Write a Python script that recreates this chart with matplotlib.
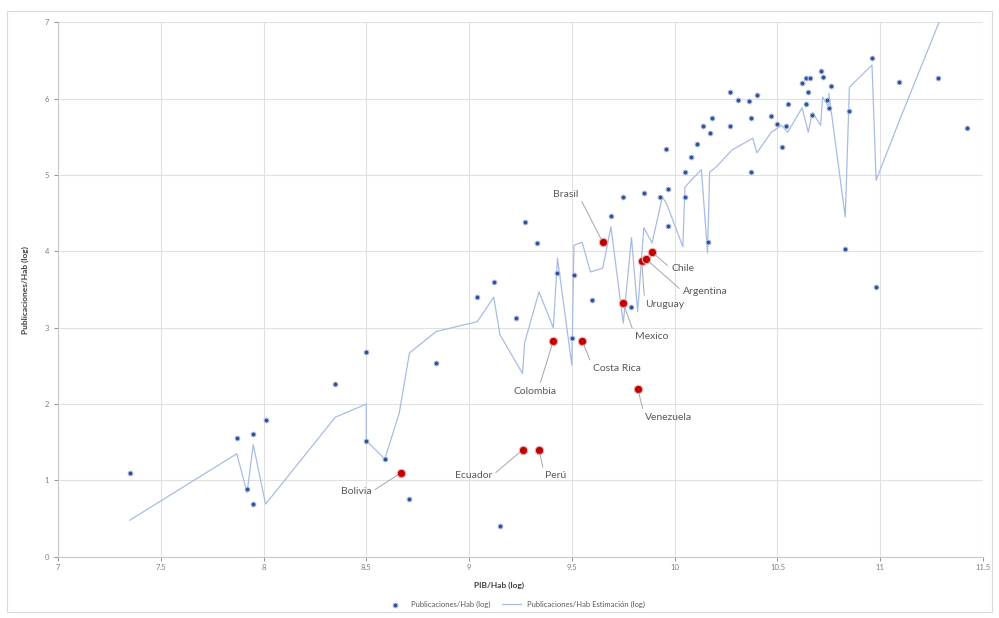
import matplotlib
matplotlib.use("Agg")
import matplotlib.pyplot as plt
from matplotlib.patches import Rectangle

plt.rcParams["font.family"] = ["Lato", "DejaVu Sans"]

# log GDP per capita / log publications per capita, all countries
pib = [7.35, 7.87, 7.92, 7.95, 7.95, 8.01, 8.35, 8.50, 8.50, 8.59, 8.71, 8.84,
       9.04, 9.12, 9.23, 9.27, 9.33, 9.15, 9.43, 9.50, 9.51, 9.60, 9.69, 9.75,
       9.79, 9.85, 9.93, 9.97, 9.97, 10.05, 10.16, 9.96, 10.05, 10.08, 10.11,
       10.14, 10.17, 10.18, 10.27, 10.31, 10.36, 10.40, 10.27, 10.37, 10.37,
       10.47, 10.52, 10.55, 10.50, 10.54, 10.62, 10.64, 10.66, 10.65, 10.64,
       10.67, 10.71, 10.72, 10.76, 10.74, 10.75, 10.85, 10.83, 10.96, 11.09,
       11.28, 11.42, 10.98]
pub = [1.10, 1.56, 0.89, 1.61, 0.69, 1.79, 2.26, 2.68, 1.52, 1.28, 0.76, 2.54,
       3.40, 3.60, 3.13, 4.38, 4.11, 0.41, 3.72, 2.87, 3.69, 3.36, 4.46, 4.71,
       3.27, 4.76, 4.71, 4.82, 4.33, 4.71, 4.12, 5.34, 5.04, 5.24, 5.41,
       5.64, 5.55, 5.75, 6.09, 5.98, 5.97, 6.05, 5.64, 5.75, 5.04,
       5.77, 5.37, 5.93, 5.67, 5.64, 6.20, 6.27, 6.27, 6.09, 5.93,
       5.79, 6.36, 6.28, 6.16, 5.98, 5.88, 5.84, 4.03, 6.53, 6.22,
       6.27, 5.62, 3.53]

# estimated publications (line), sorted by log GDP
est_x = [7.35, 7.87, 7.92, 7.95, 8.01, 8.35, 8.50, 8.50, 8.59, 8.66, 8.71, 8.84,
         9.04, 9.12, 9.15, 9.26, 9.27, 9.34, 9.41, 9.43, 9.50, 9.51, 9.55, 9.59,
         9.65, 9.69, 9.75, 9.79, 9.82, 9.85, 9.89, 9.94, 9.96, 10.04, 10.05,
         10.08, 10.13, 10.16, 10.17, 10.20, 10.28, 10.38, 10.40, 10.47, 10.52,
         10.55, 10.62, 10.65, 10.67, 10.71, 10.72, 10.75, 10.75, 10.83, 10.85,
         10.96, 10.98, 11.09, 11.28, 11.42]
est_y = [0.48, 1.35, 0.84, 1.47, 0.69, 1.83, 2.00, 1.52, 1.28, 1.88, 2.67, 2.95,
         3.08, 3.40, 2.91, 2.40, 2.80, 3.47, 3.00, 3.91, 2.51, 4.08, 4.12, 3.73,
         3.78, 4.32, 3.06, 4.18, 3.21, 4.31, 4.11, 4.71, 4.63, 4.06, 4.84,
         4.93, 5.07, 3.98, 5.04, 5.10, 5.33, 5.48, 5.29, 5.56, 5.65,
         5.56, 5.88, 5.56, 5.82, 5.65, 6.02, 5.89, 6.07, 4.45, 6.15,
         6.44, 4.93, 5.69, 6.96, 7.94]

# Latin American countries highlighted in red
latam = ["Bolivia", "Ecuador", "Perú", "Colombia", "Costa Rica", "Venezuela",
         "Mexico", "Uruguay", "Argentina", "Chile", "Brasil"]
latam_x = [8.67, 9.26, 9.34, 9.41, 9.55, 9.82, 9.75, 9.84, 9.86, 9.89, 9.65]
latam_y = [1.10, 1.40, 1.40, 2.83, 2.83, 2.20, 3.32, 3.88, 3.90, 3.99, 4.12]
label_x = [8.45, 9.02, 9.42, 9.32, 9.72, 9.97, 9.89, 9.95, 10.15, 10.04, 9.47]
label_y = [0.85, 1.06, 1.06, 2.17, 2.47, 1.83, 2.88, 3.31, 3.47, 3.77, 4.74]
label_rel = [(1, 0.5), (1, 0.5), (0, 0.5), (0.6, 1), (0, 0.5), (0, 0.5),
             (0, 0.5), (0, 0.5), (0, 0.5), (0, 0.5), (1, 0.5)]

x_ticks = [7, 7.5, 8, 8.5, 9, 9.5, 10, 10.5, 11, 11.5]
y_ticks = [0, 1, 2, 3, 4, 5, 6, 7]

fig = plt.figure(figsize=(9.99, 6.18), dpi=100)
fig.patches.append(Rectangle((0.007, 0.01), 0.986, 0.972, transform=fig.transFigure,
                             fill=False, edgecolor="#d9d9d9", lw=0.8))
ax = fig.add_axes([0.058, 0.099, 0.926, 0.865])

ax.plot(est_x, est_y, color="#a8bce3", lw=0.9, zorder=2,
        label="Publicaciones/Hab Estimación (log)")
ax.scatter(pib, pub, s=13, color="#34529a", edgecolors="#c3cfe8", linewidths=0.7,
           zorder=3, label="Publicaciones/Hab (log)")
ax.scatter(latam_x, latam_y, s=36, color="#c00000", edgecolors="#f0b0b0",
           linewidths=0.8, zorder=4)

for name, px, py, tx, ty, rel in zip(latam, latam_x, latam_y, label_x, label_y, label_rel):
    ax.annotate(name, xy=(px, py), xytext=(tx, ty), textcoords="data",
                fontsize=7.5, color="#595959", ha="center", va="center", zorder=5,
                arrowprops=dict(arrowstyle="-", color="#a6a6a6", lw=0.7,
                                relpos=rel, shrinkA=1, shrinkB=3))

ax.set_xlim(7, 11.5)
ax.set_ylim(0, 7)
ax.set_xticks(x_ticks)
ax.set_yticks(y_ticks)
ax.set_xticklabels([f"{v:g}" for v in x_ticks])
ax.tick_params(labelsize=5.5, colors="#7f7f7f", length=3, width=0.6)
ax.tick_params(axis="x", direction="out", pad=2)
ax.grid(True, color="#e0e0e0", lw=0.8)
ax.set_axisbelow(True)
for side in ["top", "right"]:
    ax.spines[side].set_visible(False)
for side in ["left", "bottom"]:
    ax.spines[side].set_color("#c8c8c8")
    ax.spines[side].set_linewidth(0.8)

fig.text(0.025, 0.53, "Publicaciones/Hab (log)", rotation=90, ha="center", va="center",
         fontsize=6, fontweight="bold", color="#404040")
fig.text(0.50, 0.052, "PIB/Hab (log)", ha="center", va="center",
         fontsize=6, fontweight="bold", color="#404040")

handles, labels = ax.get_legend_handles_labels()
fig.legend(handles[::-1], labels[::-1], loc="center", bbox_to_anchor=(0.516, 0.022),
           ncol=2, frameon=False, fontsize=5.5, labelcolor="#595959",
           handlelength=2.5, columnspacing=1.5)

fig.savefig("out.png", dpi=100, facecolor="white")
